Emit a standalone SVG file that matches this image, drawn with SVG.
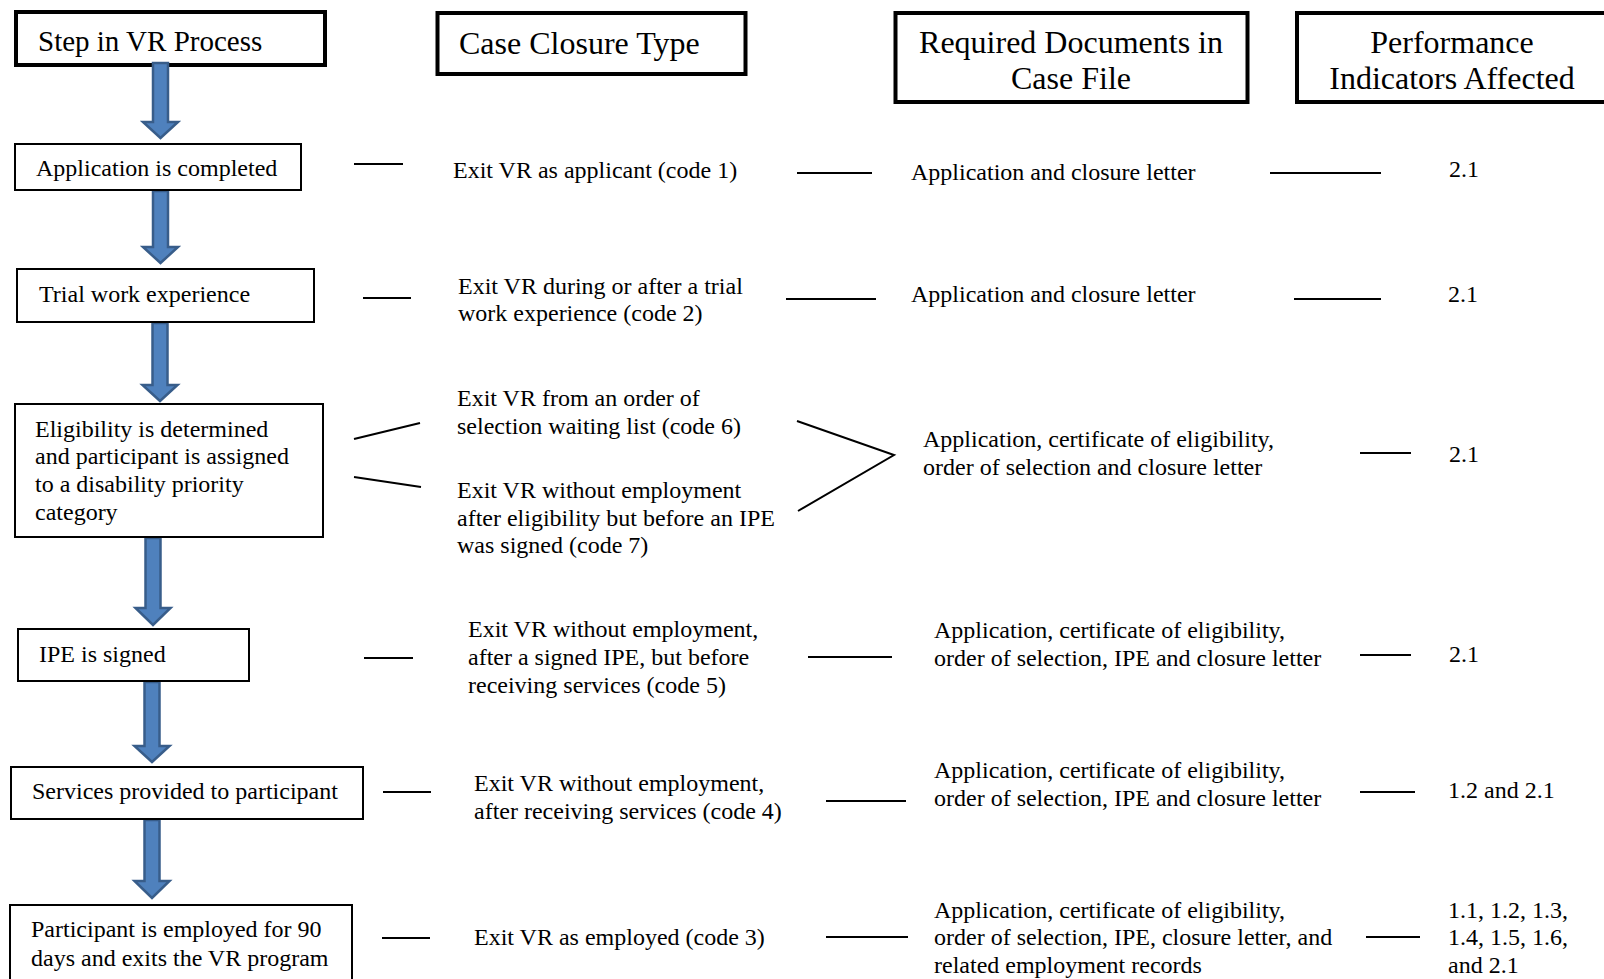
<svg xmlns="http://www.w3.org/2000/svg" width="1604" height="979" viewBox="0 0 1604 979">
<style>
text{font-family:"Liberation Serif","Times New Roman",serif;fill:#000}
.h{font-size:32px}
.t{font-size:24px}
.hb{fill:#fff;stroke:#000;stroke-width:4}
.nb{fill:#fff;stroke:#000;stroke-width:2}
.ln{stroke:#000;stroke-width:2;fill:none}
.ar{fill:#4F81BD;stroke:#385D8A;stroke-width:2.5;stroke-linejoin:miter}
.c{text-anchor:middle}
</style>
<rect width="1604" height="979" fill="#fff"/>

<g id="header-step"><rect class="hb" x="16" y="12" width="309" height="53"/><text x="38" y="51" style="font-size:29px">Step in VR Process</text></g>
<g id="header-closure"><rect class="hb" x="437.5" y="13" width="308" height="61"/><text class="h" x="459" y="54">Case Closure Type</text></g>
<g id="header-docs"><rect class="hb" x="895.5" y="13" width="352" height="89"/><text class="h c" x="1071" y="53">Required Documents in</text><text class="h c" x="1071" y="89">Case File</text></g>
<g id="header-indicators"><rect class="hb" x="1297" y="13" width="320" height="89"/><text class="h c" x="1452" y="53">Performance</text><text class="h c" x="1452" y="89">Indicators Affected</text></g>

<g id="connectors">
<path class="ar" d="M153,63 H168 V122 H178 L160.5,138 L143,122 H153 Z"/>
<path class="ar" d="M153,191 H168 V247 H178 L160.5,263 L143,247 H153 Z"/>
<path class="ar" d="M152.5,323 H167.5 V385 H177.5 L160,401 L142.5,385 H152.5 Z"/>
<path class="ar" d="M145.5,538 H160.5 V608 H170.5 L153,625 L135.5,608 H145.5 Z"/>
<path class="ar" d="M144.5,682 H159.5 V746 H169.5 L152,762 L134.5,746 H144.5 Z"/>
<path class="ar" d="M144.5,820 H159.5 V881 H169.5 L152,898 L134.5,881 H144.5 Z"/>

<line class="ln" x1="354" y1="164" x2="403" y2="164"/>
<line class="ln" x1="797" y1="173" x2="872" y2="173"/>
<line class="ln" x1="1270" y1="173" x2="1381" y2="173"/>

<line class="ln" x1="363" y1="298" x2="411" y2="298"/>
<line class="ln" x1="786" y1="299" x2="876" y2="299"/>
<line class="ln" x1="1294" y1="299" x2="1381" y2="299"/>

<line class="ln" x1="354" y1="439" x2="420" y2="423"/>
<line class="ln" x1="354" y1="477" x2="421" y2="487"/>
<polyline class="ln" points="797,421 894,455 798,511"/>
<line class="ln" x1="1360" y1="453" x2="1411" y2="453"/>

<line class="ln" x1="364" y1="658" x2="413" y2="658"/>
<line class="ln" x1="808" y1="657" x2="892" y2="657"/>
<line class="ln" x1="1360" y1="655" x2="1411" y2="655"/>

<line class="ln" x1="383" y1="792" x2="431" y2="792"/>
<line class="ln" x1="826" y1="801" x2="906" y2="801"/>
<line class="ln" x1="1360" y1="792" x2="1415" y2="792"/>

<line class="ln" x1="382" y1="938" x2="430" y2="938"/>
<line class="ln" x1="826" y1="937" x2="908" y2="937"/>
<line class="ln" x1="1366" y1="937" x2="1420" y2="937"/>
</g>

<g id="step-application"><rect class="nb" x="15" y="144" width="286" height="46"/><text class="t" x="36" y="176">Application is completed</text></g>
<g id="step-trial"><rect class="nb" x="17" y="269" width="297" height="53"/><text class="t" x="39" y="302">Trial work experience</text></g>
<g id="step-eligibility"><rect class="nb" x="15" y="404" width="308" height="133"/><text class="t" x="35" y="437">Eligibility is determined</text><text class="t" x="35" y="464">and participant is assigned</text><text class="t" x="35" y="492">to a disability priority</text><text class="t" x="35" y="520">category</text></g>
<g id="step-ipe"><rect class="nb" x="18" y="629" width="231" height="52"/><text class="t" x="39" y="662">IPE is signed</text></g>
<g id="step-services"><rect class="nb" x="11" y="767" width="352" height="52"/><text class="t" x="32" y="799">Services provided to participant</text></g>
<g id="step-employed"><rect class="nb" x="10" y="905" width="342" height="90"/><text class="t" x="31" y="937">Participant is employed for 90</text><text class="t" x="31" y="966">days and exits the VR program</text></g>

<g id="closure-1"><text class="t" x="453" y="178">Exit VR as applicant (code 1)</text></g>
<g id="closure-2"><text class="t" x="458" y="294">Exit VR during or after a trial</text><text class="t" x="458" y="321">work experience (code 2)</text></g>
<g id="closure-6"><text class="t" x="457" y="406">Exit VR from an order of</text><text class="t" x="457" y="434">selection waiting list (code 6)</text></g>
<g id="closure-7"><text class="t" x="457" y="498">Exit VR without employment</text><text class="t" x="457" y="526">after eligibility but before an IPE</text><text class="t" x="457" y="553">was signed (code 7)</text></g>
<g id="closure-5"><text class="t" x="468" y="637">Exit VR without employment,</text><text class="t" x="468" y="665">after a signed IPE, but before</text><text class="t" x="468" y="693">receiving services (code 5)</text></g>
<g id="closure-4"><text class="t" x="474" y="791">Exit VR without employment,</text><text class="t" x="474" y="819">after receiving services (code 4)</text></g>
<g id="closure-3"><text class="t" x="474" y="945">Exit VR as employed (code 3)</text></g>

<g id="docs-1"><text class="t" x="911" y="180">Application and closure letter</text></g>
<g id="docs-2"><text class="t" x="911" y="302">Application and closure letter</text></g>
<g id="docs-3"><text class="t" x="923" y="447">Application, certificate of eligibility,</text><text class="t" x="923" y="475">order of selection and closure letter</text></g>
<g id="docs-4"><text class="t" x="934" y="638">Application, certificate of eligibility,</text><text class="t" x="934" y="666">order of selection, IPE and closure letter</text></g>
<g id="docs-5"><text class="t" x="934" y="778">Application, certificate of eligibility,</text><text class="t" x="934" y="806">order of selection, IPE and closure letter</text></g>
<g id="docs-6"><text class="t" x="934" y="918">Application, certificate of eligibility,</text><text class="t" x="934" y="945">order of selection, IPE, closure letter, and</text><text class="t" x="934" y="973">related employment records</text></g>

<g id="pi-1"><text class="t" x="1449" y="177">2.1</text></g>
<g id="pi-2"><text class="t" x="1448" y="302">2.1</text></g>
<g id="pi-3"><text class="t" x="1449" y="462">2.1</text></g>
<g id="pi-4"><text class="t" x="1449" y="662">2.1</text></g>
<g id="pi-5"><text class="t" x="1448" y="798">1.2 and 2.1</text></g>
<g id="pi-6"><text class="t" x="1448" y="918">1.1, 1.2, 1.3,</text><text class="t" x="1448" y="945">1.4, 1.5, 1.6,</text><text class="t" x="1448" y="973">and 2.1</text></g>
</svg>
